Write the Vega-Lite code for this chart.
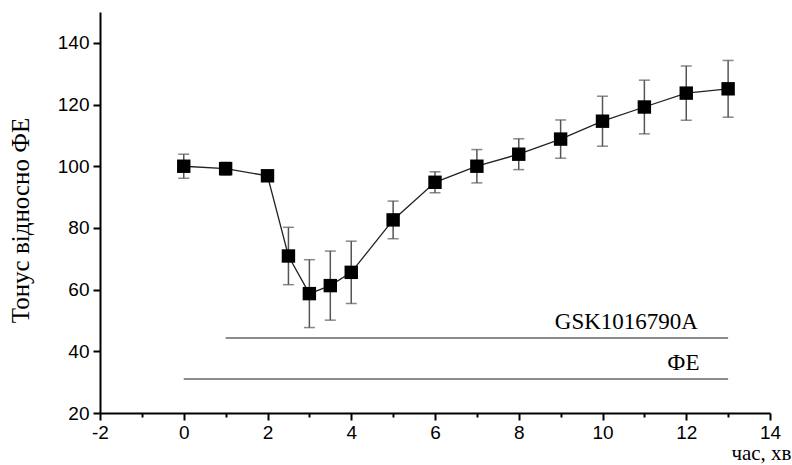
{
  "$schema": "https://vega.github.io/schema/vega-lite/v6.json",
  "width": 670,
  "height": 401,
  "autosize": {"type": "none"},
  "padding": {"left": 100, "top": 12, "right": 22, "bottom": 52},
  "background": "white",
  "config": {"view": {"stroke": null}},
  "datasets": {
    "pts": [
      {"t": 0, "v": 100, "lo": 96.1, "hi": 103.9},
      {"t": 1, "v": 99.2, "lo": 97.1, "hi": 101.3},
      {"t": 2, "v": 96.9, "lo": 96.4, "hi": 97.4},
      {"t": 2.5, "v": 70.9, "lo": 61.6, "hi": 80.2},
      {"t": 3, "v": 58.7, "lo": 47.7, "hi": 69.7},
      {"t": 3.5, "v": 61.3, "lo": 50.1, "hi": 72.5},
      {"t": 4, "v": 65.6, "lo": 55.5, "hi": 75.7},
      {"t": 5, "v": 82.6, "lo": 76.5, "hi": 88.7},
      {"t": 6, "v": 94.8, "lo": 91.4, "hi": 98.2},
      {"t": 7, "v": 100, "lo": 94.6, "hi": 105.4},
      {"t": 8, "v": 103.9, "lo": 98.9, "hi": 108.9},
      {"t": 9, "v": 108.8, "lo": 102.6, "hi": 115},
      {"t": 10, "v": 114.6, "lo": 106.5, "hi": 122.7},
      {"t": 11, "v": 119.2, "lo": 110.5, "hi": 127.9},
      {"t": 12, "v": 123.7, "lo": 114.9, "hi": 132.5},
      {"t": 13, "v": 125.1, "lo": 115.9, "hi": 134.3}
    ],
    "bars": [
      {"name": "GSK1016790A", "x1": 1, "x2": 13, "y": 44.3},
      {"name": "ФЕ", "x1": 0, "x2": 13, "y": 31}
    ],
    "labels": [
      {"name": "GSK1016790A", "x": 10.57, "y": 49.6},
      {"name": "ФЕ", "x": 11.93, "y": 36.3}
    ]
  },
  "layer": [
    {
      "data": {"name": "pts"},
      "mark": {"type": "rule", "color": "#555555", "strokeWidth": 1.5},
      "encoding": {
        "x": {
          "field": "t", "type": "quantitative",
          "scale": {"domain": [-2, 14], "nice": false, "zero": false},
          "axis": {
            "values": [-2, -1, 0, 1, 2, 3, 4, 5, 6, 7, 8, 9, 10, 11, 12, 13, 14],
            "labelExpr": "datum.value % 2 === 0 ? '' + datum.value : ''",
            "tickSize": {"condition": {"test": "datum.value % 2 === 0", "value": 7}, "value": 4},
            "title": "час, хв",
            "titleFont": "Liberation Serif",
            "titleFontSize": 21,
            "titleFontWeight": "normal",
            "titleColor": "black",
            "titleAnchor": "end",
            "titleAlign": "right",
            "titleX": 691,
            "titleY": 46,
            "titleBaseline": "alphabetic",
            "domainColor": "black",
            "domainWidth": 2,
            "tickColor": "black",
            "tickWidth": 2,
            "labelFont": "Liberation Sans",
            "labelFontSize": 19,
            "labelColor": "black",
            "labelPadding": 3,
            "labelFlush": false,
            "labelOverlap": false,
            "grid": false
          }
        },
        "y": {
          "field": "lo", "type": "quantitative",
          "scale": {"domain": [20, 150], "nice": false, "zero": false},
          "axis": {
            "values": [20, 30, 40, 50, 60, 70, 80, 90, 100, 110, 120, 130, 140, 150],
            "labelExpr": "datum.value % 20 === 0 && datum.value < 150 ? datum.label : ''",
            "tickSize": {"condition": {"test": "datum.value % 20 === 0", "value": 7}, "value": 4},
            "title": "Тонус відносно ФЕ",
            "titleFont": "Liberation Serif",
            "titleFontSize": 25,
            "titleFontWeight": "normal",
            "titleColor": "black",
            "titleX": -80,
            "titleY": 208,
            "titleAngle": -90,
            "titleAlign": "center",
            "titleBaseline": "middle",
            "domainColor": "black",
            "domainWidth": 2,
            "tickColor": "black",
            "tickWidth": 2,
            "labelFont": "Liberation Sans",
            "labelFontSize": 19,
            "labelColor": "black",
            "labelPadding": 4,
            "labelFlush": false,
            "labelOverlap": false,
            "grid": false
          }
        },
        "y2": {"field": "hi"}
      }
    },
    {
      "data": {"name": "pts"},
      "mark": {"type": "tick", "color": "#555555", "thickness": 1.5, "size": 11, "orient": "horizontal"},
      "encoding": {
        "x": {"field": "t", "type": "quantitative"},
        "y": {"field": "lo", "type": "quantitative"}
      }
    },
    {
      "data": {"name": "pts"},
      "mark": {"type": "tick", "color": "#555555", "thickness": 1.5, "size": 11, "orient": "horizontal"},
      "encoding": {
        "x": {"field": "t", "type": "quantitative"},
        "y": {"field": "hi", "type": "quantitative"}
      }
    },
    {
      "data": {"name": "pts"},
      "mark": {"type": "line", "color": "#222222", "strokeWidth": 1.3},
      "encoding": {
        "x": {"field": "t", "type": "quantitative"},
        "y": {"field": "v", "type": "quantitative"}
      }
    },
    {
      "data": {"name": "pts"},
      "mark": {"type": "square", "color": "black", "filled": true, "opacity": 1, "size": 180},
      "encoding": {
        "x": {"field": "t", "type": "quantitative"},
        "y": {"field": "v", "type": "quantitative"}
      }
    },
    {
      "data": {"name": "bars"},
      "mark": {"type": "rule", "color": "#666666", "strokeWidth": 1.5},
      "encoding": {
        "x": {"field": "x1", "type": "quantitative"},
        "x2": {"field": "x2"},
        "y": {"field": "y", "type": "quantitative"}
      }
    },
    {
      "data": {"name": "labels"},
      "mark": {"type": "text", "font": "Liberation Serif", "fontSize": 23, "color": "black", "align": "center", "baseline": "middle"},
      "encoding": {
        "x": {"field": "x", "type": "quantitative"},
        "y": {"field": "y", "type": "quantitative"},
        "text": {"field": "name"}
      }
    }
  ]
}
